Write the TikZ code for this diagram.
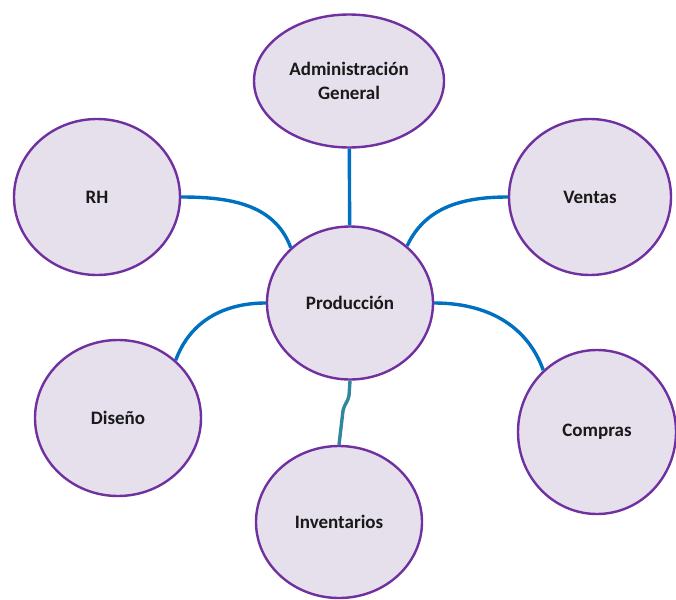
\documentclass[tikz,border=0pt]{standalone}
\usepackage{fontspec}
\setmainfont{Carlito}
\usetikzlibrary{shapes.geometric}
\definecolor{lila}{HTML}{E5E0EC}
\definecolor{morado}{HTML}{7030A0}
\definecolor{azul}{HTML}{0070C0}
\definecolor{verdeazul}{HTML}{31859C}
\begin{document}
\begin{tikzpicture}[x=1pt,y=1pt,line width=3pt]
		\tikzstyle{depto}=[ellipse, draw=morado, fill=lila, line width=2.4pt, inner sep=0pt, align=center, font=\fontsize{19}{24}\selectfont\bfseries, text=black!90];
		\tikzstyle{enlace}=[draw=azul, line width=3.4pt];
		\useasboundingbox (0,0) rectangle (676,-599);
		\node[depto, minimum width=190pt, minimum height=133pt] (admin) at (349,-81) {Administración\\General};
		\node[depto, minimum width=166pt, minimum height=156pt] (rh) at (97,-197) {RH};
		\node[depto, minimum width=162pt, minimum height=156pt] (ventas) at (590,-197) {Ventas};
		\node[depto, minimum width=166pt, minimum height=153pt] (prod) at (350,-303) {Producción};
		\node[depto, minimum width=166pt, minimum height=156pt] (diseno) at (118,-418) {Diseño};
		\node[depto, minimum width=158pt, minimum height=164pt] (compras) at (597,-432) {Compras};
		\node[depto, minimum width=166pt, minimum height=152pt] (invent) at (339,-522) {Inventarios};
		% lineas hacia produccion
		\draw[enlace] (admin) -- (prod);
		\draw[enlace] (rh.east) to[out=0,in=110] (prod.137);
		\draw[enlace] (prod.45) to[out=65,in=180] (ventas.west);
		\draw[enlace] (prod.west) to[out=180,in=70] (diseno.45);
		\draw[enlace] (prod.east) to[out=0,in=110] (compras.131);
		\draw[enlace, draw=verdeazul] (prod.south) -- ++(-1,-15) to[out=-100,in=80] ++(-6,-15) -- (invent.north);
\end{tikzpicture}
\end{document}
